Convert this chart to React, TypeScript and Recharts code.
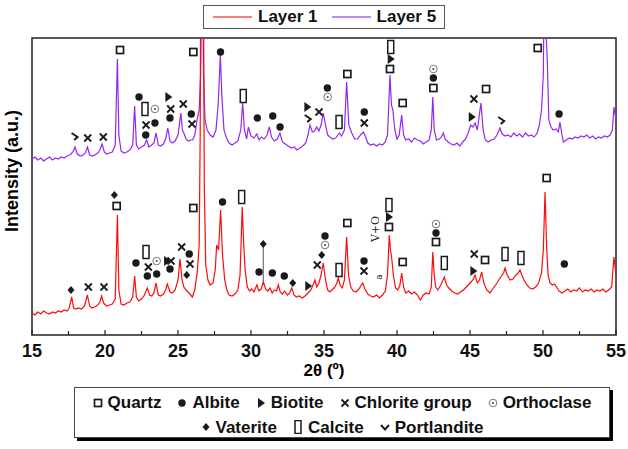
import React from "react";
import {
    ComposedChart,
    Line,
    Scatter,
    XAxis,
    YAxis,
    ReferenceArea,
    ReferenceLine,
} from "recharts";

// 2θ tick positions (minor every 2.5)
const thetaTicks = [15, 17.5, 20, 22.5, 25, 27.5, 30, 32.5, 35, 37.5, 40, 42.5, 45, 47.5, 50, 52.5, 55];

// Layer 5 pattern, [2θ, intensity a.u.] (upper trace)
const layer5 = [
    [15.0, 176], [15.2, 178], [15.4, 175], [15.6, 177], [15.8, 174], [16.0, 176], [16.2, 178], [16.4, 175],
    [16.6, 177], [16.8, 176], [17.0, 178], [17.2, 177], [17.4, 179], [17.6, 180], [17.8, 183], [17.95, 188],
    [18.1, 181], [18.3, 179], [18.5, 180], [18.65, 182], [18.8, 188], [18.95, 180], [19.1, 179], [19.3, 180],
    [19.5, 182], [19.65, 185], [19.8, 191], [19.95, 183], [20.1, 181], [20.3, 182], [20.5, 183], [20.7, 190],
    [20.85, 276], [20.95, 200], [21.1, 184], [21.3, 182], [21.5, 183], [21.7, 185], [21.9, 190], [22.03, 229],
    [22.15, 190], [22.3, 186], [22.5, 188], [22.7, 190], [22.85, 195], [23.0, 188], [23.2, 190], [23.35, 192],
    [23.5, 202], [23.65, 190], [23.8, 189], [24.0, 191], [24.15, 196], [24.3, 207], [24.45, 194], [24.6, 192],
    [24.8, 194], [25.0, 200], [25.2, 222], [25.3, 205], [25.4, 202], [25.55, 196], [25.7, 194], [25.85, 195],
    [26.0, 195], [26.15, 200], [26.3, 215], [26.45, 225], [26.55, 260], [26.66, 420], [26.75, 260], [26.85, 215],
    [27.0, 205], [27.2, 200], [27.4, 198], [27.6, 205], [27.75, 230], [27.9, 280], [28.0, 240], [28.15, 205],
    [28.3, 198], [28.5, 192], [28.7, 190], [28.9, 192], [29.1, 194], [29.3, 205], [29.43, 232], [29.55, 205],
    [29.7, 196], [29.82, 208], [30.0, 199], [30.2, 197], [30.4, 201], [30.55, 195], [30.7, 198], [30.9, 196],
    [31.1, 200], [31.25, 208], [31.4, 198], [31.6, 194], [31.8, 196], [31.98, 202], [32.15, 193], [32.35, 191],
    [32.55, 189], [32.75, 187], [32.95, 188], [33.15, 185], [33.35, 187], [33.55, 189], [33.75, 192], [33.9, 200],
    [34.04, 210], [34.2, 203], [34.35, 204], [34.5, 208], [34.65, 204], [34.8, 210], [34.95, 222], [35.1, 210],
    [35.25, 200], [35.4, 198], [35.6, 196], [35.8, 197], [35.95, 200], [36.05, 202], [36.2, 199], [36.4, 205],
    [36.55, 253], [36.7, 210], [36.9, 202], [37.1, 196], [37.3, 196], [37.5, 200], [37.7, 203], [37.85, 198],
    [38.0, 192], [38.2, 190], [38.4, 191], [38.6, 189], [38.8, 191], [39.0, 190], [39.2, 193], [39.35, 200],
    [39.52, 260], [39.62, 230], [39.72, 225], [39.85, 205], [40.0, 196], [40.15, 200], [40.32, 220], [40.45, 200],
    [40.6, 195], [40.8, 196], [41.0, 193], [41.2, 197], [41.4, 195], [41.6, 194], [41.8, 191], [42.0, 193],
    [42.2, 195], [42.35, 205], [42.45, 238], [42.55, 205], [42.7, 195], [42.9, 196], [43.05, 198], [43.17, 202],
    [43.3, 196], [43.5, 193], [43.7, 191], [43.9, 190], [44.1, 192], [44.3, 189], [44.5, 193], [44.7, 196],
    [44.9, 203], [45.05, 210], [45.2, 208], [45.35, 212], [45.5, 205], [45.75, 232], [45.9, 205], [46.05, 195],
    [46.25, 193], [46.45, 195], [46.65, 196], [46.85, 200], [47.05, 207], [47.2, 201], [47.4, 199], [47.6, 200],
    [47.8, 198], [48.0, 202], [48.2, 199], [48.4, 201], [48.6, 198], [48.8, 202], [49.0, 199], [49.2, 200],
    [49.4, 198], [49.6, 202], [49.75, 210], [49.9, 225], [50.02, 260], [50.14, 420], [50.22, 300], [50.3, 272],
    [50.4, 215], [50.55, 208], [50.7, 205], [50.9, 206], [51.05, 203], [51.16, 213], [51.3, 200], [51.4, 193],
    [51.6, 195], [51.8, 197], [52.0, 196], [52.2, 198], [52.4, 197], [52.6, 199], [52.8, 198], [53.0, 200],
    [53.2, 197], [53.4, 199], [53.6, 196], [53.8, 198], [54.0, 197], [54.2, 199], [54.4, 198], [54.6, 200],
    [54.75, 205], [54.86, 228], [55.0, 215],
];

// Layer 1 pattern, [2θ, intensity a.u.] (lower trace)
const layer1 = [
    [15.0, 22], [15.2, 20], [15.4, 23], [15.6, 21], [15.8, 24], [16.0, 22], [16.2, 21], [16.4, 23],
    [16.6, 22], [16.8, 24], [17.0, 23], [17.2, 25], [17.4, 24], [17.55, 27], [17.72, 38], [17.85, 27],
    [18.0, 26], [18.2, 27], [18.4, 26], [18.6, 29], [18.79, 40], [18.95, 29], [19.1, 27], [19.3, 28],
    [19.5, 30], [19.65, 33], [19.77, 39], [19.9, 32], [20.1, 29], [20.3, 30], [20.5, 31], [20.7, 36],
    [20.85, 120], [20.95, 45], [21.1, 31], [21.3, 30], [21.5, 32], [21.7, 33], [21.9, 38], [22.03, 59],
    [22.15, 38], [22.3, 34], [22.5, 36], [22.7, 40], [22.9, 47], [23.05, 40], [23.2, 39], [23.35, 42],
    [23.5, 52], [23.65, 40], [23.8, 39], [24.0, 41], [24.15, 45], [24.27, 51], [24.45, 43], [24.6, 42],
    [24.8, 45], [25.0, 55], [25.14, 76], [25.28, 55], [25.4, 48], [25.55, 45], [25.75, 42], [25.98, 38],
    [26.15, 45], [26.32, 63], [26.45, 90], [26.52, 200], [26.57, 420], [26.65, 360], [26.73, 420], [26.8, 150],
    [26.9, 70], [27.05, 55], [27.2, 50], [27.4, 52], [27.55, 65], [27.65, 90], [27.78, 85], [27.92, 125],
    [28.05, 80], [28.2, 55], [28.35, 45], [28.5, 40], [28.7, 39], [28.9, 41], [29.1, 45], [29.25, 60],
    [29.4, 128], [29.5, 90], [29.6, 65], [29.75, 48], [29.9, 44], [30.05, 46], [30.2, 43], [30.4, 50],
    [30.55, 44], [30.7, 46], [30.85, 53], [31.0, 46], [31.15, 44], [31.3, 47], [31.45, 42], [31.6, 45],
    [31.75, 44], [31.87, 50], [32.0, 43], [32.15, 41], [32.3, 44], [32.5, 40], [32.65, 42], [32.79, 47],
    [32.95, 40], [33.1, 38], [33.3, 39], [33.5, 37], [33.7, 39], [33.9, 42], [34.1, 45], [34.25, 50],
    [34.38, 55], [34.5, 48], [34.65, 52], [34.8, 60], [34.95, 72], [35.1, 55], [35.25, 45], [35.4, 43],
    [35.55, 45], [35.75, 48], [35.88, 52], [35.98, 57], [36.1, 50], [36.25, 47], [36.4, 55], [36.55, 98],
    [36.68, 60], [36.83, 48], [37.0, 44], [37.2, 43], [37.4, 46], [37.55, 50], [37.65, 52], [37.8, 46],
    [38.0, 41], [38.2, 39], [38.4, 38], [38.6, 40], [38.8, 37], [39.0, 40], [39.2, 44], [39.35, 60],
    [39.47, 100], [39.55, 85], [39.63, 78], [39.75, 60], [39.9, 47], [40.05, 45], [40.2, 50], [40.32, 62],
    [40.45, 48], [40.6, 42], [40.8, 44], [41.0, 41], [41.2, 43], [41.4, 40], [41.6, 35], [41.8, 40],
    [42.0, 42], [42.2, 41], [42.35, 48], [42.45, 83], [42.55, 60], [42.65, 48], [42.8, 45], [43.0, 50],
    [43.24, 58], [43.4, 50], [43.55, 47], [43.75, 44], [43.95, 42], [44.15, 41], [44.35, 43], [44.55, 45],
    [44.75, 48], [45.0, 52], [45.2, 55], [45.35, 60], [45.5, 52], [45.65, 55], [45.8, 63], [45.95, 52],
    [46.15, 45], [46.37, 42], [46.6, 47], [46.85, 52], [47.1, 58], [47.3, 62], [47.4, 67], [47.55, 60],
    [47.74, 55], [47.95, 56], [48.15, 60], [48.3, 62], [48.42, 65], [48.55, 60], [48.7, 55], [48.9, 50],
    [49.1, 47], [49.3, 46], [49.5, 48], [49.7, 52], [49.9, 62], [50.02, 85], [50.14, 143], [50.25, 88],
    [50.35, 60], [50.48, 52], [50.65, 50], [50.8, 51], [50.93, 48], [51.1, 44], [51.3, 42], [51.5, 44],
    [51.7, 46], [51.9, 43], [52.1, 45], [52.3, 44], [52.5, 47], [52.7, 43], [52.9, 45], [53.1, 44],
    [53.3, 46], [53.5, 43], [53.7, 45], [53.9, 44], [54.1, 46], [54.3, 43], [54.5, 45], [54.7, 48],
    [54.86, 78], [55.0, 60],
];

// phase markers, [2θ, height] (upper ones belong to Layer 5, lower ones to Layer 1)
const quartzMarks = [
    [21.03, 285], [26.05, 283], [36.6, 261], [39.52, 266], [40.39, 232], [42.49, 247], [46.1, 246], [49.64, 287],
    [20.8, 129], [26.05, 127], [36.6, 112], [39.45, 108], [40.39, 73], [42.67, 93], [46.03, 75], [50.25, 157],
];
const albiteMarks = [
    [22.33, 238], [23.42, 212], [22.79, 200], [24.45, 217], [25.91, 221], [27.91, 283], [30.43, 217], [31.49, 219],
    [31.99, 208], [35.23, 247], [37.76, 223], [42.49, 257], [51.1, 221],
    [22.12, 72], [22.9, 59], [23.54, 61], [24.45, 66], [25.77, 81], [28.05, 133], [30.55, 63], [31.46, 62],
    [32.28, 59], [35.07, 99], [37.74, 74], [42.67, 102], [51.46, 71],
];
const biotiteMarks = [
    [24.34, 238], [33.86, 228], [39.57, 276], [45.12, 218],
    [24.25, 74], [33.92, 49], [39.45, 118], [45.23, 64],
];
const chloriteMarks = [
    [18.82, 197], [19.88, 198], [22.81, 210], [24.5, 226], [25.36, 231], [25.96, 211], [34.66, 223], [37.76, 212], [45.27, 236],
    [18.86, 48], [19.93, 48], [22.97, 68], [24.52, 74], [25.25, 88], [25.82, 71], [34.54, 70], [37.74, 64], [45.29, 81],
];
const orthoclaseMarks = [
    [23.42, 226], [35.25, 238], [42.49, 266],
    [23.54, 74], [35.07, 90], [42.67, 111],
];
const vateriteMarks = [
    [17.67, 45], [20.64, 140], [25.6, 60], [30.84, 91], [32.86, 52], [34.84, 80],
];
const calciteMarks = [
    [22.74, 226], [29.47, 239], [36.03, 213], [39.57, 288],
    [22.81, 83], [29.36, 138], [36.03, 65], [39.45, 130], [43.24, 72], [47.4, 81], [48.49, 77],
];
const portlanditeMarks = [
    [17.95, 199], [33.92, 217], [47.17, 215],
];
const textMarks = [
    { t: 38.54, i: 106, label: "V+O" },
    { t: 38.79, i: 58, label: "a" },
];

const toPoints = (arr: number[][]) => arr.map(([t, i]) => ({ t, i }));

const INK = "#1a1a1a";
const FONT = "'Liberation Sans', Arial, sans-serif";

const Quartz = ({ cx, cy }: any) => (
    <rect x={cx - 3.5} y={cy - 3.5} width={7} height={7} fill="#fff" stroke={INK} strokeWidth={1.7} />
);
const Albite = ({ cx, cy }: any) => <circle cx={cx} cy={cy} r={3.7} fill={INK} />;
const Biotite = ({ cx, cy }: any) => (
    <path d={`M${cx - 3},${cy - 5} L${cx + 4},${cy} L${cx - 3},${cy + 5} Z`} fill={INK} />
);
const Chlorite = ({ cx, cy }: any) => (
    <path d={`M${cx - 3.5},${cy - 3.5} L${cx + 3.5},${cy + 3.5} M${cx + 3.5},${cy - 3.5} L${cx - 3.5},${cy + 3.5}`} stroke={INK} strokeWidth={1.8} />
);
const Orthoclase = ({ cx, cy }: any) => (
    <g>
        <circle cx={cx} cy={cy} r={3.8} fill="#fff" stroke="#777" strokeWidth={1} />
        <circle cx={cx} cy={cy} r={1.1} fill="#555" />
    </g>
);
const Vaterite = ({ cx, cy }: any) => (
    <path d={`M${cx},${cy - 4} L${cx + 3.5},${cy} L${cx},${cy + 4} L${cx - 3.5},${cy} Z`} fill={INK} />
);
const Calcite = ({ cx, cy }: any) => (
    <rect x={cx - 3} y={cy - 6.5} width={6} height={13} fill="#fff" stroke={INK} strokeWidth={1.5} />
);
const Portlandite = ({ cx, cy }: any) => (
    <path d={`M${cx - 3.5},${cy - 3} L${cx + 2.5},${cy + 1} L${cx - 1},${cy + 4}`} fill="none" stroke={INK} strokeWidth={2} />
);
const CheckIcon = ({ cx, cy }: any) => (
    <path d={`M${cx - 4},${cy - 2} L${cx},${cy + 2.5} L${cx + 4},${cy - 2}`} fill="none" stroke={INK} strokeWidth={2} />
);
const RotText = ({ cx, cy, payload }: any) => (
    <text
        x={cx}
        y={cy}
        transform={`rotate(-90 ${cx} ${cy})`}
        textAnchor="middle"
        dominantBaseline="central"
        fontSize={payload.label === "a" ? 9 : 11}
        fontFamily="'DejaVu Serif', serif"
        fill={INK}
    >
        {payload.label}
    </text>
);

const ThetaTick = (props: any) => {
    const { x, y, payload } = props;
    const major = payload.value % 5 === 0;
    return (
        <g>
            <line x1={x} x2={x} y1={y} y2={y - (major ? 5 : 4)} stroke="#222" strokeWidth={1.2} />
            {major && (
                <text x={x} y={y + 22} textAnchor="middle" fontSize={18} fontWeight="bold" fontFamily={FONT} fill="#111">
                    {payload.value}
                </text>
            )}
        </g>
    );
};

const LegendIcon = ({ children }: any) => (
    <svg width={10} height={14} viewBox="-5 -7 10 14" style={{ verticalAlign: "-1px", marginRight: 5 }}>
        {children}
    </svg>
);

export default function App() {
    const phases: [number[][], any][] = [
        [quartzMarks, Quartz],
        [albiteMarks, Albite],
        [biotiteMarks, Biotite],
        [chloriteMarks, Chlorite],
        [orthoclaseMarks, Orthoclase],
        [vateriteMarks, Vaterite],
        [calciteMarks, Calcite],
        [portlanditeMarks, Portlandite],
    ];
    const item = { display: "inline-flex", alignItems: "center", margin: "0 8px" } as const;

    return (
        <div style={{ position: "absolute", left: 0, top: 0, width: 628, height: 449, background: "#fff", fontFamily: FONT }}>
            <ComposedChart width={628} height={449} margin={{ top: 38, right: 12, left: 32, bottom: 84 }}>
                <XAxis
                    dataKey="t"
                    type="number"
                    domain={[15, 55]}
                    ticks={thetaTicks}
                    interval={0}
                    allowDataOverflow
                    axisLine={false}
                    tickLine={false}
                    tickSize={0}
                    tickMargin={0}
                    height={30}
                    tick={<ThetaTick />}
                />
                <YAxis type="number" domain={[0, 297]} allowDataOverflow hide />
                <ReferenceArea x1={15} x2={55} y1={0} y2={297} fill="none" stroke="#222" strokeWidth={1.5} />
                <Line data={toPoints(layer5)} dataKey="i" stroke="#9426f5" strokeWidth={1.2} dot={false} isAnimationActive={false} />
                <Line data={toPoints(layer1)} dataKey="i" stroke="#ff0a0a" strokeWidth={1.2} dot={false} isAnimationActive={false} />
                <ReferenceLine segment={[{ x: 30.84, y: 88 }, { x: 30.84, y: 50 }]} stroke="#555" strokeWidth={1} />
                {phases.map(([marks, Shape], k) => (
                    <Scatter key={k} data={toPoints(marks)} dataKey="i" shape={(p: any) => <Shape {...p} />} isAnimationActive={false} />
                ))}
                <Scatter data={textMarks} dataKey="i" shape={(p: any) => <RotText {...p} />} isAnimationActive={false} />
            </ComposedChart>

            {/* series legend */}
            <div
                style={{
                    position: "absolute", left: 203, top: 5, width: 240, height: 22, border: "1px solid #555",
                    display: "flex", alignItems: "center", fontWeight: "bold", fontSize: 17, color: "#111",
                }}
            >
                <span style={{ display: "inline-block", width: 39, height: 2, background: "#ff7a7a", marginLeft: 9, marginRight: 6 }} />
                Layer 1
                <span style={{ display: "inline-block", width: 39, height: 2, background: "#b88aff", marginLeft: 14, marginRight: 6 }} />
                Layer 5
            </div>

            {/* axis titles */}
            <div style={{ position: "absolute", left: 0, top: 362, width: 628, paddingLeft: 20, boxSizing: "border-box", textAlign: "center", fontWeight: "bold", fontSize: 17, lineHeight: "18px" }}>
                2θ (º)
            </div>
            <div style={{ position: "absolute", left: 12, top: 171, width: 0, height: 0, fontWeight: "bold", fontSize: 18 }}>
                <div style={{ position: "absolute", transform: "translate(-50%, -50%) rotate(-90deg)", whiteSpace: "nowrap" }}>
                    Intensity (a.u.)
                </div>
            </div>

            {/* phase legend */}
            <div
                style={{
                    position: "absolute", left: 74, top: 387, width: 536, height: 51, border: "1px solid #444",
                    boxShadow: "3px 3px 0 #000", background: "#fff", fontWeight: "bold", fontSize: 17, color: "#111",
                    textAlign: "center", lineHeight: "23px", paddingTop: 3, boxSizing: "border-box", whiteSpace: "nowrap",
                }}
            >
                <div>
                    <span style={item}><LegendIcon><Quartz cx={0} cy={0} /></LegendIcon>Quartz</span>
                    <span style={item}><LegendIcon><Albite cx={0} cy={0} /></LegendIcon>Albite</span>
                    <span style={item}><LegendIcon><Biotite cx={0} cy={0} /></LegendIcon>Biotite</span>
                    <span style={item}><LegendIcon><Chlorite cx={0} cy={0} /></LegendIcon>Chlorite group</span>
                    <span style={item}><LegendIcon><Orthoclase cx={0} cy={0} /></LegendIcon>Orthoclase</span>
                </div>
                <div>
                    <span style={item}><LegendIcon><Vaterite cx={0} cy={0} /></LegendIcon>Vaterite</span>
                    <span style={item}><LegendIcon><Calcite cx={0} cy={0} /></LegendIcon>Calcite</span>
                    <span style={item}><LegendIcon><CheckIcon cx={0} cy={0} /></LegendIcon>Portlandite</span>
                </div>
            </div>
        </div>
    );
}
